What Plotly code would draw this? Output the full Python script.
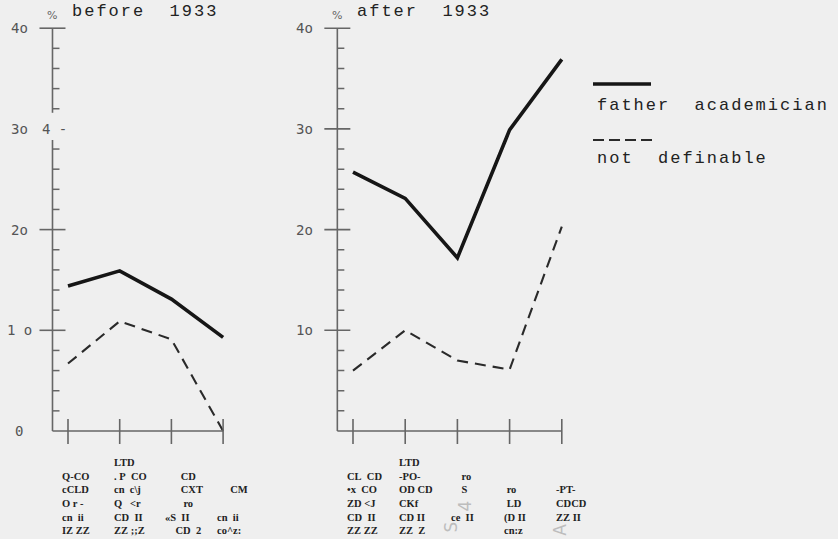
import plotly.graph_objects as go

# ---- values (percent) ----
father_before = [14.4, 15.9, 13.1, 9.3]
notdef_before = [6.7, 10.9, 9.1, 0.0]
father_after = [25.7, 23.1, 17.2, 29.9, 36.9]
notdef_after = [6.0, 10.0, 7.0, 6.1, 20.3]

panel_titles = ["before  1933", "after  1933"]
legend_names = ["father  academician", "not  definable"]

y_major_vals = [0, 10, 20, 30, 40]
y_labels_before = ["0", "1 o", "2o", "3o", "4o"]
y_labels_after = ["", "1o", "2o", "3o", "4o"]
stray_axis_text = "4 -"

# category captions under the x axes (rows top to bottom)
cats_before = [
    ["", "Q-CO", "cCLD", "O r -", "cn  ii", "IZ ZZ"],
    ["LTD", ". P  CO", "cn  c\\j", "Q   <r", "CD  II", "ZZ ;;Z"],
    ["", "      CD", "      CXT", "       ro", "«S  II", "    CD  2"],
    ["", "", "     CM", "", "cn  ii", "co^z:"],
]
cats_after = [
    ["", "CL  CD", "•x  CO", "ZD <J", "CD  II", "ZZ ZZ"],
    ["LTD", "-PO-", "OD CD", "CKf", "CD II", "ZZ  Z"],
    ["", "    ro", "    S", "", "ce  II", ""],
    ["", "", " ro", " LD", "(D II", "cn:z"],
    ["", "", "-PT-", "CDCD", "ZZ II", ""],
]

# ---- frame geometry ----
W, H = 838, 539
ZERO_ROW = 431.0
PX_PER_UNIT = 10.07
y_range = [(ZERO_ROW - H) / PX_PER_UNIT, ZERO_ROW / PX_PER_UNIT]


def x_range(dom, first_px, step):
    return [(dom[0] * W - first_px) / step, (dom[1] * W - first_px) / step]


dom_l, dom_r = [0.0, 0.35], [0.35, 1.0]
xr_l = x_range(dom_l, 68.0, 51.7)
xr_r = x_range(dom_r, 353.0, 52.2)
AXIS_X = -0.3

PAPER = "#efefef"
AXIS_C = "#666666"
INK = "#161616"
MONO = "Liberation Mono, Courier New, monospace"
SERIF = "Liberation Serif, Times New Roman, serif"

fig = go.Figure()

solid = dict(color=INK, width=3.6)
dashed = dict(color="#2a2a2a", width=2.1, dash="11px,7px")

fig.add_trace(go.Scatter(x=list(range(len(father_before))), y=father_before, mode="lines",
                         line=solid, xaxis="x", yaxis="y", showlegend=False, hoverinfo="skip"))
fig.add_trace(go.Scatter(x=list(range(len(notdef_before))), y=notdef_before, mode="lines",
                         line=dashed, xaxis="x", yaxis="y", showlegend=False, hoverinfo="skip"))
fig.add_trace(go.Scatter(x=list(range(len(father_after))), y=father_after, mode="lines",
                         line=solid, xaxis="x2", yaxis="y", showlegend=False, hoverinfo="skip"))
fig.add_trace(go.Scatter(x=list(range(len(notdef_after))), y=notdef_after, mode="lines",
                         line=dashed, xaxis="x2", yaxis="y", showlegend=False, hoverinfo="skip"))

shapes = []
annotations = []


def axis_line(xref, x0, x1, y0, y1):
    shapes.append(dict(type="line", xref=xref, yref="y", x0=x0, x1=x1, y0=y0, y1=y1,
                       line=dict(color=AXIS_C, width=1.6)))


def draw_axes(xref, n, y_segments, major_vals, labels):
    for a, b in y_segments:
        axis_line(xref, AXIS_X, AXIS_X, a, b)
    axis_line(xref, AXIS_X, n - 1, 0, 0)
    # y ticks
    for v in range(2, 40, 2):
        if v % 10 == 0:
            continue
        shapes.append(dict(type="line", xref=xref, yref="y", xsizemode="pixel", xanchor=AXIS_X,
                           x0=0, x1=7, y0=v, y1=v, line=dict(color=AXIS_C, width=1.5)))
    for v in major_vals:
        shapes.append(dict(type="line", xref=xref, yref="y", xsizemode="pixel", xanchor=AXIS_X,
                           x0=-13, x1=13, y0=v, y1=v, line=dict(color=AXIS_C, width=1.6)))
    for v, t in zip(y_major_vals, labels):
        if t:
            annotations.append(dict(text=t, xref=xref, yref="y", x=AXIS_X, y=v, xshift=-33,
                                    xanchor="center", yanchor="middle", showarrow=False,
                                    font=dict(family="DejaVu Sans Mono", size=14, color="#555")))
    # x ticks
    for i in range(n):
        shapes.append(dict(type="line", xref=xref, yref="y", ysizemode="pixel", yanchor=0,
                           x0=i, x1=i, y0=-13, y1=12, line=dict(color=AXIS_C, width=1.6)))


draw_axes("x", len(father_before), [(0, 28.9), (31.6, 40)], [10, 20, 40], y_labels_before)
draw_axes("x2", len(father_after), [(0, 40)], [10, 20, 30, 40], y_labels_after)

annotations.append(dict(text=stray_axis_text, xref="x", yref="y", x=AXIS_X, y=30, xshift=2,
                        xanchor="center", yanchor="middle", showarrow=False,
                        font=dict(family="DejaVu Sans Mono", size=14, color="#555")))

# panel titles and % marks
for xref, title in zip(["x", "x2"], panel_titles):
    annotations.append(dict(text=f'<span style="letter-spacing:2px">{title}</span>',
                            xref=xref, yref="paper", x=AXIS_X, y=1 - 12 / H, xshift=18,
                            xanchor="left", yanchor="middle", showarrow=False,
                            font=dict(family=MONO, size=17, color="#222")))
    annotations.append(dict(text="%", xref=xref, yref="paper", x=AXIS_X, y=1 - 15 / H,
                            xanchor="center", yanchor="middle", showarrow=False,
                            font=dict(family="DejaVu Sans", size=11, color="#666")))

# category captions
def nb(s):
    return s.replace(" ", "\u00a0")


for xref, cats in (("x", cats_before), ("x2", cats_after)):
    for i, rows in enumerate(cats):
        annotations.append(dict(text="<br>".join(nb(r) if r else "\u00a0" for r in rows),
                                xref=xref, yref="paper", x=i, xshift=-8, y=1 - 455 / H,
                                xanchor="left", yanchor="top", align="left", showarrow=False,
                                font=dict(family=SERIF, size=10.5, color="#222", weight="bold")))

# faint marks in the caption area
for txt, xref, xi, xs, ypx in (("S", "x2", 2, -6, 527), ("4", "x2", 2, 8, 506), ("A", "x2", 4, -2, 530)):
    annotations.append(dict(text=txt, xref=xref, yref="paper", x=xi, xshift=xs, y=1 - ypx / H,
                            textangle=-90, showarrow=False, xanchor="center", yanchor="middle",
                            font=dict(family="DejaVu Sans", size=17, color="#bdbdbd")))

# key
shapes.append(dict(type="line", xref="paper", yref="paper", x0=593 / W, x1=651 / W,
                   y0=1 - 84 / H, y1=1 - 84 / H, line=solid))
shapes.append(dict(type="line", xref="paper", yref="paper", x0=593 / W, x1=652 / W,
                   y0=1 - 140 / H, y1=1 - 140 / H, line=dict(color="#2a2a2a", width=2.1, dash="11px,5px")))
for name, ypx in zip(legend_names, [106, 158]):
    annotations.append(dict(text=f'<span style="letter-spacing:2px">{name}</span>',
                            xref="paper", yref="paper", x=595 / W, y=1 - ypx / H,
                            xanchor="left", yanchor="middle", showarrow=False,
                            font=dict(family=MONO, size=17, color="#222")))

fig.update_layout(
    width=W, height=H,
    margin=dict(l=0, r=0, t=0, b=0),
    paper_bgcolor=PAPER, plot_bgcolor=PAPER,
    xaxis=dict(domain=dom_l, range=xr_l, visible=False, anchor="y"),
    xaxis2=dict(domain=dom_r, range=xr_r, visible=False, anchor="y"),
    yaxis=dict(domain=[0, 1], range=y_range, visible=False),
    shapes=shapes, annotations=annotations,
    showlegend=False,
)

fig.write_html("out.html")
